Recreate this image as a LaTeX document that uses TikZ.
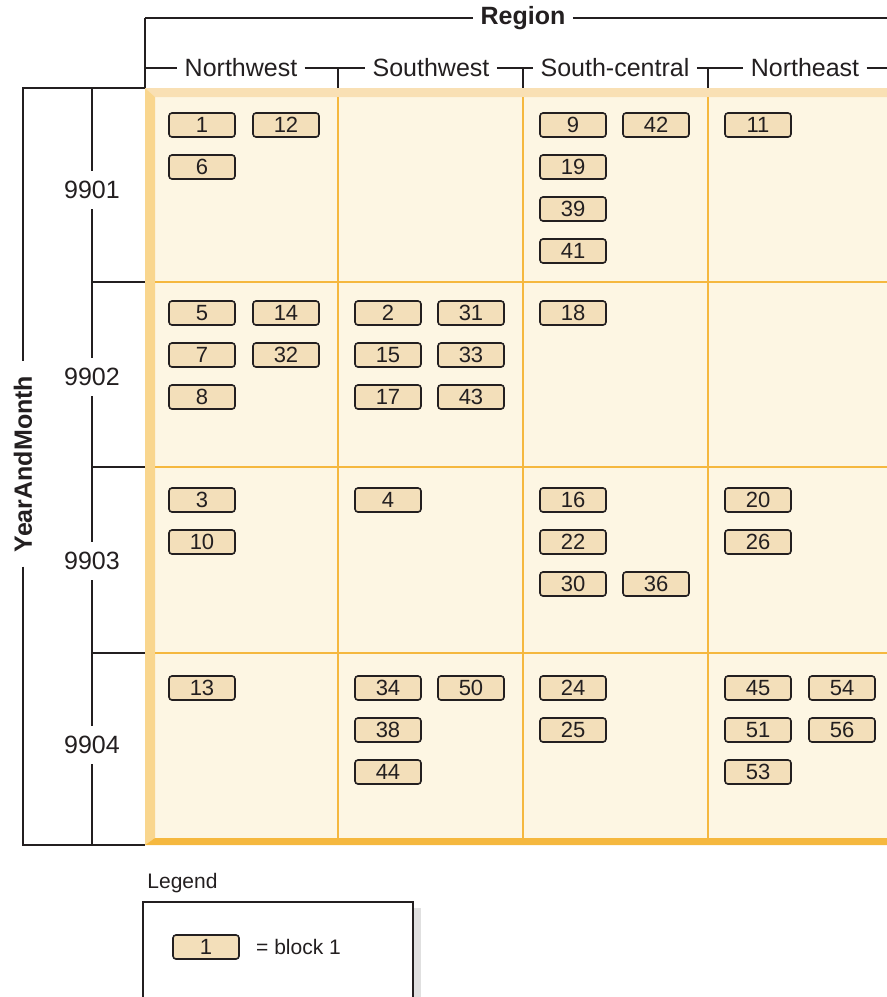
\documentclass[tikz,border=0pt]{standalone}
\usepackage{fontspec}
\setmainfont{Liberation Sans}
\usetikzlibrary{positioning}
\definecolor{cellfill}{HTML}{FDF6E3}
\definecolor{topband}{HTML}{F9E0B4}
\definecolor{leftband}{HTML}{F9D68E}
\definecolor{botband}{HTML}{F5B83F}
\definecolor{gridline}{HTML}{F5B83F}
\definecolor{blockfill}{HTML}{F3DFBA}
\definecolor{ink}{HTML}{231F20}

\begin{document}
\begin{tikzpicture}[x=0.5pt, y=-0.5pt,
    rule/.style={draw=ink, line width=0.9pt},
    grd/.style={draw=gridline, line width=1.1pt},
    hdr/.style={fill=white, text=ink, inner xsep=3.5pt, inner ysep=2pt, font=\fontsize{12.5}{14}\selectfont},
    rowhdr/.style={fill=white, text=ink, inner xsep=1pt, inner ysep=5pt, font=\fontsize{12.5}{14}\selectfont},
    blk/.style={draw=ink, line width=0.8pt, fill=blockfill, rounded corners=1.5pt, minimum width=33pt, minimum height=12pt, inner sep=0pt, text=ink, font=\fontsize{11}{11}\selectfont}]

\useasboundingbox (0,0) rectangle (887,997);

%%%%%%%%%%%%%%%%%%%%%%%%%%%%%%%%%%%%%%%%%%
% grid
\fill[cellfill] (145,88) rectangle (887,845);
\fill[topband] (145,88) -- (887,88) -- (887,97) -- (155,97) -- cycle;
\fill[leftband] (145,88) -- (155,97) -- (155,838) -- (145,845) -- cycle;
\fill[botband] (145,845) -- (155,838) -- (887,838) -- (887,845) -- cycle;
\foreach \x in {338,523,708}
    \draw[grd] (\x,97) -- (\x,838);
\foreach \y in {282,467,653}
    \draw[grd] (155,\y) -- (887,\y);

%%%%%%%%%%%%%%%%%%%%%%%%%%%%%%%%%%%%%%%%%%
% Region header
\coordinate (rtl) at (145,18);
\coordinate (rtr) at (887,18);
\coordinate (gtl) at (145,88);
\node[hdr, font=\fontsize{12.5}{14}\selectfont\bfseries] (region) at (523,18) {Region};
\draw[rule] (rtl) -- (region.west);
\draw[rule] (region.east) -- (rtr);
\draw[rule] (rtl) -- (gtl);

\node[hdr] (nw) at (241,68) {Northwest};
\node[hdr] (sw) at (431,68) {Southwest};
\node[hdr] (sc) at (615,68) {South-central};
\node[hdr] (ne) at (805,68) {Northeast};
\coordinate (cl) at (145,68);
\coordinate (cr) at (887,68);
\draw[rule] (cl) -- (nw.west);
\draw[rule] (nw.east) -- (sw.west);
\draw[rule] (sw.east) -- (sc.west);
\draw[rule] (sc.east) -- (ne.west);
\draw[rule] (ne.east) -- (cr);
\foreach \x in {338,523,708}
    \draw[rule] (\x,68) -- (\x,88);

%%%%%%%%%%%%%%%%%%%%%%%%%%%%%%%%%%%%%%%%%%
% YearAndMonth header
\coordinate (ytop) at (23,88);
\coordinate (ybot) at (23,845);
\coordinate (gbl) at (145,845);
\node[rowhdr, inner ysep=2pt, inner xsep=7pt, rotate=90, font=\fontsize{12.5}{14}\selectfont\bfseries] (ym) at (23,464) {YearAndMonth};
\draw[rule] (gtl) -- (ytop) -- (ym.east);
\draw[rule] (ym.west) -- (ybot) -- (gbl);

\node[rowhdr] (y9901) at (92,190) {9901};
\node[rowhdr] (y9902) at (92,377) {9902};
\node[rowhdr] (y9903) at (92,561) {9903};
\node[rowhdr] (y9904) at (92,745) {9904};
\coordinate (itop) at (92,88);
\coordinate (ibot) at (92,845);
\draw[rule] (itop) -- (y9901.north);
\draw[rule] (y9901.south) -- (y9902.north);
\draw[rule] (y9902.south) -- (y9903.north);
\draw[rule] (y9903.south) -- (y9904.north);
\draw[rule] (y9904.south) -- (ibot);
\foreach \y in {282,467,653}
    \draw[rule] (92,\y) -- (145,\y);

%%%%%%%%%%%%%%%%%%%%%%%%%%%%%%%%%%%%%%%%%%
% blocks
\foreach \n/\x/\y in {1/202/125, 12/286/125, 6/202/167,
    9/573/125, 42/656/125, 19/573/167, 39/573/209, 41/573/251,
    11/758/125,
    5/202/313, 14/286/313, 7/202/355, 32/286/355, 8/202/397,
    2/388/313, 31/471/313, 15/388/355, 33/471/355, 17/388/397, 43/471/397,
    18/573/313,
    3/202/500, 10/202/542,
    4/388/500,
    16/573/500, 22/573/542, 30/573/584, 36/656/584,
    20/758/500, 26/758/542,
    13/202/688,
    34/388/688, 50/471/688, 38/388/730, 44/388/772,
    24/573/688, 25/573/730,
    45/758/688, 54/842/688, 51/758/730, 56/842/730, 53/758/772}
    \node[blk] (b\n) at (\x,\y) {\n};

%%%%%%%%%%%%%%%%%%%%%%%%%%%%%%%%%%%%%%%%%%
% legend
\node[anchor=west, inner sep=0pt, text=ink, font=\fontsize{10.5}{12}\selectfont] (legend) at (147,883) {Legend};
\fill[black!12] (413,908) rectangle (421,997);
\draw[rule, fill=white] (143,902) rectangle (413,998);
\node[blk] (legblk) at (206,947) {1};
\node[right=8pt of legblk, inner sep=0pt, text=ink, font=\fontsize{10.5}{12}\selectfont] (legtext) {= block 1};

\end{tikzpicture}
\end{document}
